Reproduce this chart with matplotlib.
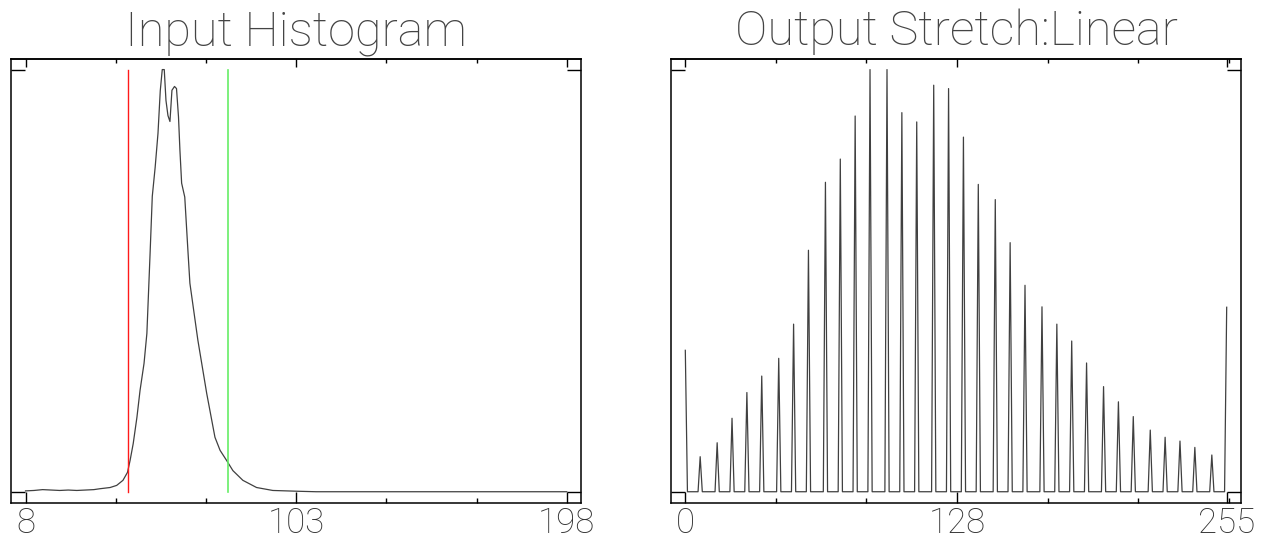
import numpy as np
import matplotlib
matplotlib.use("Agg")
import matplotlib.pyplot as plt
from matplotlib.ticker import AutoMinorLocator

# input histogram (smooth curve), heights scaled so the max is 1000
in_levels = [8, 11, 14, 17, 20, 23, 26, 29, 32, 34, 37.7, 40, 42.2, 43.8, 44.7,
             45.8, 47.1, 48.2, 49.6, 50.6, 51.7, 52.5, 53.5, 54.5, 55.3, 56.0,
             56.7, 57.3, 58.0, 58.7, 59.4, 60.3, 61.0, 61.7, 62.2, 62.8, 63.9,
             65.0, 65.7, 68.5, 71.6, 74.5, 76.3, 78.6, 80.8, 84.3, 89.1, 94.8,
             104.3, 110, 198]
in_counts = [2, 3, 5, 4, 3, 4, 3, 4, 5, 7, 10, 15, 27, 46, 74,
             114, 176, 240, 304, 375, 560, 700, 768, 849, 950, 1000,
             1000, 927, 891, 877, 951, 960, 955, 888, 809, 731, 698,
             572, 494, 359, 233, 129, 98, 74, 50, 27, 10, 3,
             1, 0, 0]
stretch_min = 44
stretch_max = 79

# output histogram after the linear stretch: only these levels are filled
out_levels = [0, 7, 15, 22, 29, 36, 44, 51, 58, 66, 73, 80, 87, 95, 102, 109,
              117, 124, 131, 138, 146, 153, 160, 168, 175, 182, 189, 197, 204,
              211, 219, 226, 233, 240, 248, 255]
out_counts = [335, 83, 116, 174, 235, 274, 316, 397, 572, 733, 788, 890, 1000,
              1000, 898, 876, 963, 955, 840, 728, 692, 590, 489, 438, 397, 357,
              305, 249, 213, 178, 146, 129, 120, 105, 87, 437]

out_x = np.arange(256)
out_y = np.zeros(256)
out_y[out_levels] = out_counts

font = dict(family=["Roboto", "DejaVu Sans"], fontweight="light")
line_col = "#404040"

fig = plt.figure(figsize=(12.69, 5.42), dpi=100)
ax1 = fig.add_axes([0.0089, 0.0725, 0.4487, 0.8186])
ax2 = fig.add_axes([0.5290, 0.0725, 0.4487, 0.8186])


def style_axis(ax, xlim, majors, title):
    ax.set_xlim(*xlim)
    ax.set_ylim(-26, 1025)
    ax.set_xticks(majors)
    ax.set_xticklabels([str(m) for m in majors], fontsize=25, color="#333333", **font)
    ax.xaxis.set_minor_locator(AutoMinorLocator(3))
    ax.tick_params(axis="x", which="major", direction="in", length=8.2, width=1.0,
                   bottom=True, top=False, pad=3)
    ax.tick_params(axis="x", which="minor", direction="in", length=3.6, width=1.0,
                   bottom=True, top=False)
    ax.set_yticks([0, 1000])
    ax.tick_params(axis="y", direction="in", length=10, width=1.0,
                   left=True, right=True, labelleft=False)
    top = ax.secondary_xaxis("top")
    top.set_xticks(majors)
    top.set_xticklabels([])
    top.xaxis.set_minor_locator(AutoMinorLocator(3))
    top.tick_params(which="major", direction="in", length=5.5, width=1.0)
    top.tick_params(which="minor", direction="in", length=2.9, width=1.0)
    top.spines["top"].set_linewidth(1.1)
    for s in ax.spines.values():
        s.set_linewidth(1.1)
    ax.set_title(title, fontsize=35, color="#444444", pad=10, **font)


ax1.plot(in_levels, in_counts, color=line_col, lw=0.9)
ax1.plot([stretch_min, stretch_min], [0, 1000], color="#ff1a1a", lw=1.0)
ax1.plot([stretch_max, stretch_max], [0, 1000], color="#66ee66", lw=1.2)
style_axis(ax1, (3.0, 202.9), [8, 103, 198], "Input Histogram")

ax2.plot(out_x, out_y, color=line_col, lw=0.9)
style_axis(ax2, (-6.6, 261.6), [0, 128, 255], "Output Stretch:Linear")

fig.savefig("out.png", dpi=100)
